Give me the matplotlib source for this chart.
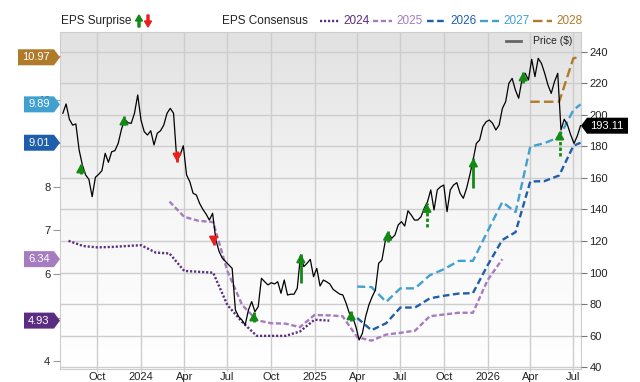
import matplotlib
matplotlib.use("Agg")
import matplotlib.pyplot as plt
import numpy as np
import pandas as pd
from matplotlib.patches import Polygon, FancyArrow
from matplotlib.lines import Line2D
from matplotlib.transforms import IdentityTransform
from matplotlib.colors import LinearSegmentedColormap

plt.rcParams["font.family"] = ["Liberation Sans", "DejaVu Sans"]

W, H = 640, 382
TEXT = "#222222"
GRID = "#cdcdcd"
UP = "#138a13"
DOWN = "#e8201c"

# ---- データ ----
START = pd.Timestamp("2023-07-20")
END = pd.Timestamp("2026-07-16")

# 週足の株価 ($)
price = [
    201.0, 206.9, 197.2, 193.5, 194.2, 177.7, 168.2, 161.9, 159.1, 148.1,
    160.4, 162.3, 164.6, 175.6, 169.9, 176.6, 177.3, 181.9, 190.8, 197.2,
    195.0, 194.6, 201.0, 212.6, 196.7, 189.3, 187.2, 189.9, 180.9, 188.3,
    189.9, 193.5, 201.0, 204.1, 201.0, 171.4, 174.5, 180.4, 161.9, 157.6,
    150.3, 149.2, 143.9, 140.1, 137.1, 133.3, 137.6, 120.7, 113.3, 109.1,
    106.9, 104.8, 102.7, 76.3, 72.1, 70.0, 66.8, 76.3, 81.6, 75.2,
    78.4, 96.4, 94.2, 92.2, 93.6, 92.8, 94.2, 86.9, 95.3, 85.8,
    86.3, 86.3, 90.1, 111.2, 103.8, 105.9, 108.4, 97.4, 102.7, 91.5,
    95.3, 94.2, 92.8, 89.4, 87.9, 86.4, 85.8, 80.6, 74.2, 72.1,
    65.7, 57.3, 61.5, 72.1, 79.5, 84.7, 89.0, 105.9, 108.0, 119.6,
    124.9, 121.7, 123.8, 130.2, 132.3, 129.5, 139.2, 136.5, 133.3, 133.3,
    135.4, 140.8, 144.9, 152.4, 139.7, 152.4, 154.4, 155.5, 138.6, 152.4,
    155.5, 157.0, 150.3, 147.1, 153.4, 161.9, 171.4, 181.9, 184.0, 192.5,
    195.6, 196.7, 194.6, 190.4, 193.5, 204.1, 208.3, 220.0, 223.1, 215.7,
    210.5, 222.1, 226.3, 222.1, 235.2, 224.2, 235.8, 232.6, 226.3, 218.9,
    213.6, 221.0, 226.3, 190.4, 197.2, 193.5, 187.2, 181.9, 186.6, 193.11,
]

# EPS コンセンサス（月次）
years = ["2024", "2025", "2026", "2027", "2028"]
eps_start = ["2023-08-01", "2024-03-01", "2025-04-01", "2025-04-01", "2026-04-01"]
eps_2024 = [6.76, 6.64, 6.61, 6.62, 6.64, 6.66, 6.49, 6.47, 6.07, 6.05,
            6.03, 5.29, 4.90, 4.58, 4.58, 4.58, 4.68, 4.95, 4.93]
eps_2025 = [7.66, 7.31, 7.22, 7.19, 6.07, 5.29, 4.94, 4.87, 4.86, 4.78,
            5.06, 5.05, 5.03, 4.55, 4.47, 4.61, 4.65, 4.70, 5.03, 5.07,
            5.11, 5.11, 5.86, 6.34]
eps_2026 = [4.99, 4.71, 4.87, 5.23, 5.23, 5.44, 5.50, 5.55, 5.56, 6.20,
            6.78, 6.96, 8.12, 8.13, 8.26, 8.94]
eps_2027 = [5.71, 5.70, 5.36, 5.67, 5.67, 5.97, 6.11, 6.30, 6.30, 6.98,
            7.65, 7.42, 8.92, 9.00, 9.14, 9.76]
eps_2028 = [9.95, 9.95, 9.95, 10.95]
eps_now = [None, None, 9.01, 9.89, 10.97]   # 直近値
eps_values = [eps_2024, eps_2025, eps_2026, eps_2027, eps_2028]

# EPS サプライズ（矢印: 始点→終点の株価）
surp_dates = ["2023-08-27", "2023-11-26", "2024-03-17", "2024-06-02",
              "2024-08-26", "2024-12-03", "2025-03-19", "2025-06-04",
              "2025-08-26", "2025-12-02", "2026-03-17", "2026-06-02"]
surp_from = [162.8, 193.5, 177.1, 123.5, 68.7, 93.6, 69.3, 119.4,
             128.6, 153.9, 220.2, 173.6]
surp_to = [168.8, 199.2, 170.1, 117.5, 75.0, 111.8, 75.7, 126.1,
           143.8, 172.6, 227.1, 189.7]
surp_dashed = [False, False, False, False, False, False, False, False,
               True, False, False, True]

COLORS = ["#5b2d82", "#a67cc0", "#1f5eab", "#40a1d1", "#b07a2b"]
STYLES = [(0, (0.9, 0.8)), (0, (2.2, 1.1)), (0, (2.8, 1.5)),
          (0, (3.4, 1.7)), (0, (4.0, 1.8))]

# ---- 描画 ----
fig = plt.figure(figsize=(W / 100, H / 100), dpi=100)
fig.patch.set_facecolor("white")
rect = [60 / W, 13 / H, 521 / W, 337 / H]

xlim = (pd.Timestamp("2023-07-14"), pd.Timestamp("2026-07-17"))
quarters = pd.date_range("2023-10-01", "2026-07-01", freq="QS")

# 背景（グラデーション + グリッド）
bg = fig.add_axes(rect, zorder=0)
grad = LinearSegmentedColormap.from_list("g", ["#e1e1e1", "#f6f6f6", "#ffffff"])
bg.imshow(np.linspace(0, 1, 256).reshape(-1, 1), cmap=grad, aspect="auto",
          extent=[0, 1, 0, 1], transform=bg.transAxes, zorder=0)
bg.set_xlim(*xlim)
bg.set_ylim(38.9, 252.5)
bg.set_xticks(quarters)
bg.set_yticks(range(40, 241, 20))
bg.grid(color=GRID, linewidth=1)
bg.tick_params(length=0, labelbottom=False, labelleft=False)
for s in bg.spines.values():
    s.set_color(GRID)

# EPS 軸（左）
ax = fig.add_axes(rect, zorder=1)
ax.patch.set_visible(False)
ax.set_xlim(*xlim)
ax.set_ylim(3.82, 11.55)
for yr, start, vals, now, c, ls in zip(years, eps_start, eps_values, eps_now, COLORS, STYLES):
    d = list(pd.date_range(start, periods=len(vals), freq="MS"))
    v = list(vals)
    if now is not None:
        d.append(END)
        v.append(now)
    ax.plot(d, v, color=c, linestyle=ls, linewidth=1.7, dash_capstyle="butt")
ax.set_yticks(range(4, 12))
# 5, 9, 11 はバッジの下に隠れる
ax.set_yticklabels(["4", "", "6", "7", "8", "", "10", ""])
ax.set_xticks(quarters)
ax.set_xticklabels([str(q.year) if q.month == 1 else q.strftime("%b") for q in quarters])
ax.tick_params(axis="y", length=5, color="#999999", labelsize=8, labelcolor=TEXT, pad=2)
ax.tick_params(axis="x", length=2, color=GRID, labelsize=8, labelcolor=TEXT, pad=0.5)
for s in ax.spines.values():
    s.set_visible(False)

# 株価軸（右）
axp = fig.add_axes(rect, zorder=2)
axp.patch.set_visible(False)
axp.set_xlim(*xlim)
axp.set_ylim(38.9, 252.5)
dates = pd.date_range(START, END, periods=len(price))
axp.plot(dates, price, color="black", linewidth=0.9)
for ds, f, t, dash in zip(surp_dates, surp_from, surp_to, surp_dashed):
    d = pd.Timestamp(ds)
    c = UP if t > f else DOWN
    axp.plot([d, d], [f, t], color=c, linewidth=2,
             linestyle=(0, (1.2, 0.8)) if dash else "-", solid_capstyle="butt")
    axp.annotate("", xy=(d, t), xytext=(0, -5 if t > f else 5), textcoords="offset points",
                 arrowprops=dict(arrowstyle="-|>,head_length=0.45,head_width=0.25",
                                 color=c, lw=1.5, shrinkA=0, shrinkB=0, mutation_scale=10))
axp.yaxis.tick_right()
axp.set_yticks(range(40, 241, 20))
axp.set_xticks([])
axp.tick_params(axis="y", length=4, color="#777777", labelsize=8, labelcolor=TEXT, pad=2)
for s in axp.spines.values():
    s.set_visible(False)

ident = IdentityTransform()

# 左側の EPS バッジ
badge_vals = [eps_2024[-1], eps_2025[-1], eps_now[2], eps_now[3], eps_now[4]]
for val, c in zip(badge_vals, COLORS):
    y = ax.transData.transform((ax.get_xlim()[0], val))[1]
    label = f"{val:.2f}"
    left = 18 if len(label) > 4 else 24
    poly = Polygon([(left, y - 8), (54, y - 8), (60, y), (54, y + 8), (left, y + 8)],
                   closed=True, facecolor=c, edgecolor="none", transform=ident, zorder=10)
    fig.add_artist(poly)
    fig.text((left + 54) / 2, y, label, color="white", fontsize=8,
             ha="center", va="center", transform=ident, zorder=11)

# 右側の株価バッジ
y = axp.transData.transform((axp.get_xlim()[0], price[-1]))[1]
poly = Polygon([(581, y), (587, y + 8), (628, y + 8), (628, y - 8), (587, y - 8)],
               closed=True, facecolor="black", edgecolor="none", transform=ident, zorder=10)
fig.add_artist(poly)
fig.text(607, y, f"{price[-1]:.2f}", color="white", fontsize=8,
         ha="center", va="center", transform=ident, zorder=11)

# 凡例（上部）
ly = H - 21
fig.text(61, ly, "EPS Surprise", color=TEXT, fontsize=8.5, va="center", transform=ident)
fig.add_artist(FancyArrow(139, ly - 6, 0, 12, width=2, head_width=7, head_length=6,
                          length_includes_head=True, color=UP, transform=ident))
fig.add_artist(FancyArrow(148, ly + 6, 0, -12, width=2, head_width=7, head_length=6,
                          length_includes_head=True, color=DOWN, transform=ident))
fig.text(222, ly, "EPS Consensus", color=TEXT, fontsize=8.5, va="center", transform=ident)
leg_x = [320, 373, 427, 480, 533]
for yr, c, ls, lx in zip(years, COLORS, STYLES, leg_x):
    fig.add_artist(Line2D([lx, lx + 19], [ly, ly], color=c, linestyle=ls,
                          linewidth=1.7, transform=ident))
    fig.text(lx + 23, ly, yr, color=c, fontsize=8.5, va="center", transform=ident)

# Price 凡例
py = H - 41
fig.add_artist(Line2D([506, 521], [py, py], color="#666666", linewidth=2, transform=ident))
fig.text(533, py, "Price ($)", color=TEXT, fontsize=7.5, va="center", transform=ident)

fig.savefig("out.png", dpi=100, facecolor="white")
